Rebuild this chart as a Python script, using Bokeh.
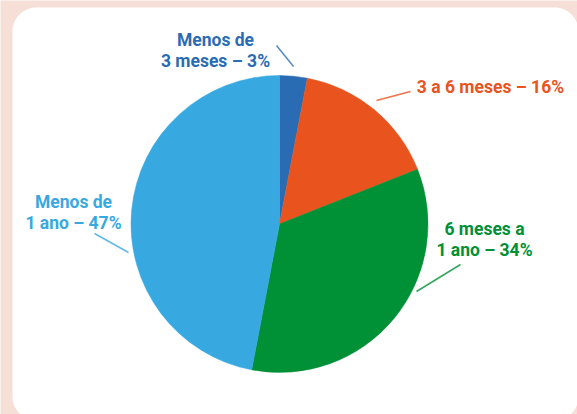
import numpy as np
from bokeh.plotting import figure
from bokeh.models import Range1d, ColumnDataSource
from bokeh.core.properties import value
from bokeh.embed import file_html
from bokeh.resources import INLINE

# ---- data ----
categories = ["Menos de 3 meses", "3 a 6 meses", "6 meses a 1 ano", "Menos de 1 ano"]
shares = [3, 16, 34, 47]
label_lines = [["Menos de", "3 meses – 3%"], ["3 a 6 meses – 16%"],
               ["6 meses a", "1 ano – 34%"], ["Menos de", "1 ano – 47%"]]
colors = ["#2a6cb3", "#e9531e", "#009036", "#38a9e0"]

# ---- layout (screen px, y down) ----
W, H = 577, 414
cx, cy, R = 279, 223.5, 148.5
label_pos = [(215, 39), (490, 86), (484, 228), (73, 201)]
label_align = ["center", "center", "center", "center"]
leader = [((276, 45), (293, 66)), ((410, 91), (376, 100)),
          ((460, 264), (416, 291)), ((94, 233), (128, 252))]
line_gap = 21

def Y(y):
    return H - y

p = figure(width=W, height=H, x_range=Range1d(0, W), y_range=Range1d(0, H),
           output_backend="svg", toolbar_location=None, min_border=0)
p.axis.visible = False
p.grid.visible = False
p.outline_line_color = None
p.background_fill_color = "#f6dfd7"
p.border_fill_color = "#f6dfd7"

# white rounded panel
x0, x1, y0, y1, r = 12, 578, 7, 420, 24
pts = []
for (ccx, ccy, a0) in [(x1 - r, y0 + r, -90), (x1 - r, y1 - r, 0), (x0 + r, y1 - r, 90), (x0 + r, y0 + r, 180)]:
    t = np.radians(np.linspace(a0, a0 + 90, 20))
    for tt in t:
        pts.append((ccx + r * np.cos(tt), ccy + r * np.sin(tt)))
p.patch([q[0] for q in pts], [Y(q[1]) for q in pts], fill_color="white", line_color=None)

# pie
total = float(sum(shares))
cum = np.cumsum([0] + shares[:-1]) / total
frac = np.array(shares) / total
start = np.pi / 2 - 2 * np.pi * cum
end = np.pi / 2 - 2 * np.pi * (cum + frac)
src = ColumnDataSource(dict(start=start, end=end, color=colors, cat=categories))
p.wedge(x=cx, y=Y(cy), radius=R, start_angle="start", end_angle="end",
        direction="clock", fill_color="color", line_color="color", line_width=0.5, source=src)

# leader lines
for (a, b), c in zip(leader, colors):
    p.line([a[0], b[0]], [Y(a[1]), Y(b[1])], line_color=c, line_width=1.5, line_alpha=0.8)

# labels
for lines, (lx, ly), c, al in zip(label_lines, label_pos, colors, label_align):
    for i, s in enumerate(lines):
        p.text(x=[lx], y=[Y(ly + i * line_gap)], text=[s], text_color=c,
               text_font=value("Roboto"), text_font_style="bold", text_font_size="17.5px",
               text_align=al, text_baseline="middle")

open("out.html", "w").write(file_html(p, INLINE))
